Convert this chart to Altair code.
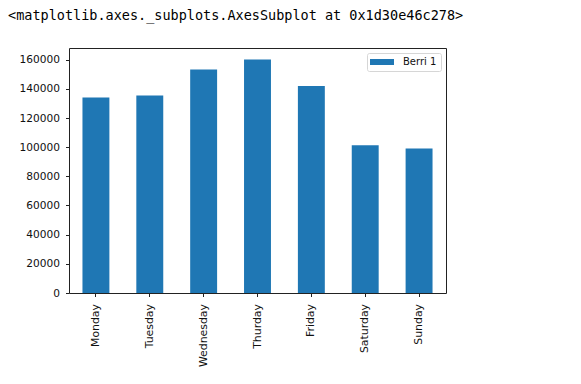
import altair as alt
import pandas as pd

days = ["Monday", "Tuesday", "Wednesday", "Thurday", "Friday", "Saturday", "Sunday"]
values = [134000, 135500, 153300, 160200, 141900, 101400, 99100]
series = ["Berri 1"] * len(days)
y_ticks = [0, 20000, 40000, 60000, 80000, 100000, 120000, 140000, 160000]

df = pd.DataFrame({"day": days, "value": values, "series": series})

chart = alt.Chart(df).mark_bar(color="#1f77b4").encode(
    x=alt.X("day:N", sort=days, title=None,
            scale=alt.Scale(paddingInner=0.5, paddingOuter=0.25),
            axis=alt.Axis(labelAngle=270, labelFont="DejaVu Sans", labelFontSize=10.9,
                          labelColor="#111", tickColor="#222", tickSize=3.5,
                          domain=False, labelPadding=7)),
    y=alt.Y("value:Q", title=None,
            scale=alt.Scale(domain=[0, 168000], nice=False, zero=True),
            axis=alt.Axis(values=y_ticks, format="d", grid=False, labelFont="DejaVu Sans",
                          labelFontSize=10.6, labelColor="#111", tickColor="#222",
                          tickSize=3.5, domain=False, labelPadding=6)),
    color=alt.Color("series:N", scale=alt.Scale(range=["#1f77b4"]),
                    legend=alt.Legend(title=None, orient="top-right", offset=5,
                                      padding=4, fillColor="white", strokeColor="#d6d6d6",
                                      cornerRadius=2,
                                      symbolType="M-2.4,-0.6H2.4V0.6H-2.4Z",
                                      symbolSize=100, symbolOffset=6, symbolStrokeWidth=0,
                                      labelOffset=16, labelFont="DejaVu Sans",
                                      labelFontSize=10, labelColor="#111")),
).properties(
    width=377,
    height=245,
    autosize="none",
    padding={"left": 61, "top": 40, "right": 127, "bottom": 83},
    title=alt.TitleParams(
        text="<matplotlib.axes._subplots.AxesSubplot at 0x1d30e46c278>",
        anchor="start", frame="group", dx=-61, offset=26,
        font="DejaVu Sans Mono", fontSize=13.5, fontWeight="normal", color="#000",
    ),
).configure_view(stroke="#222", strokeWidth=1)

chart.save("out.html", embed_options={"renderer": "svg", "actions": False})
